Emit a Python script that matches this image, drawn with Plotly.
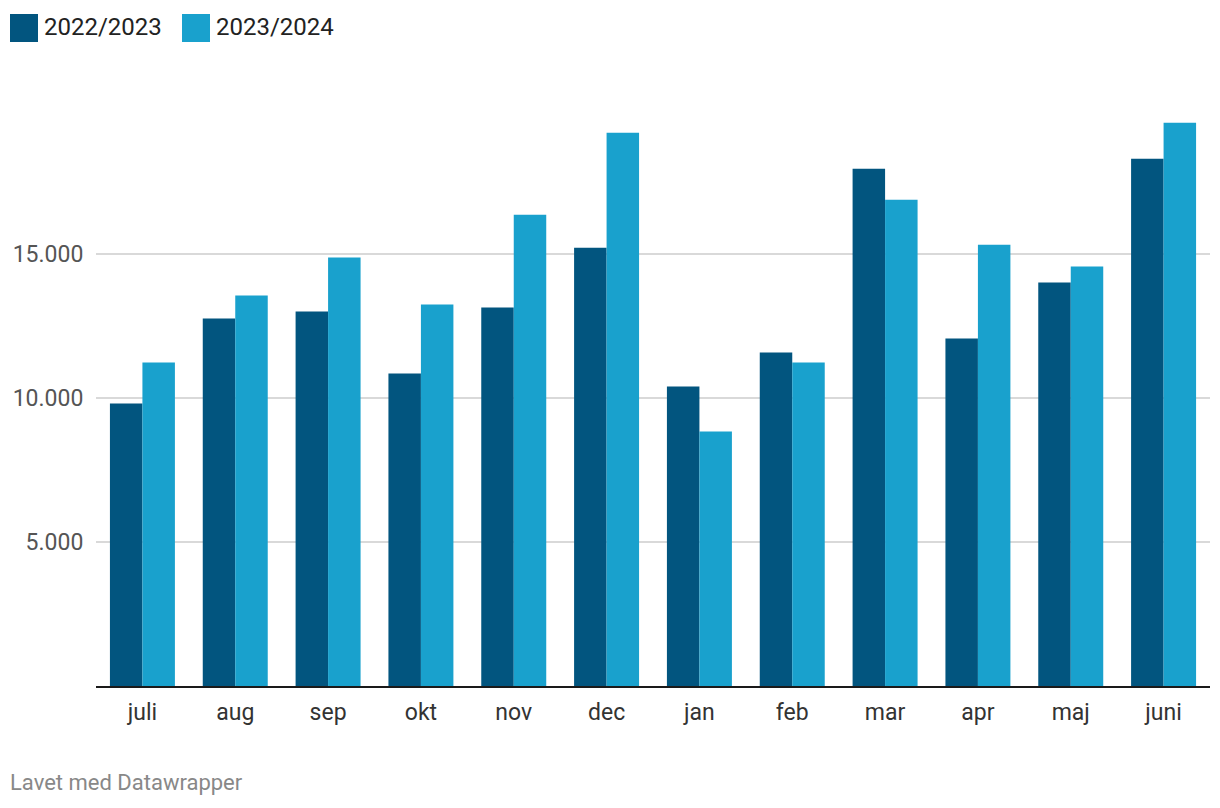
import plotly.graph_objects as go

months = ["juli", "aug", "sep", "okt", "nov", "dec", "jan", "feb", "mar", "apr", "maj", "juni"]
s2022 = [9810, 12760, 13000, 10850, 13140, 15220, 10400, 11580, 17960, 12065, 14010, 18310]
s2023 = [11230, 13560, 14875, 13245, 16365, 19210, 8840, 11230, 16885, 15325, 14565, 19560]
series_names = ["2022/2023", "2023/2024"]
colors = ["#02557f", "#19a1cd"]
ytick_vals = [5000, 10000, 15000]
ytick_text = ["5.000", "10.000", "15.000"]

W, H = 1220, 808
OFF = 8  # page body offset
L, R, T = 96 - OFF, 1220 - (1210 - OFF), 110 - OFF
PH = 576
B = H - T - PH
PW = W - L - R

def px(x):
    return (x - OFF - L) / PW

def py(y):
    return 1 - (y - OFF - T) / PH

fig = go.Figure()
for name, vals, c in zip(series_names, [s2022, s2023], colors):
    fig.add_trace(go.Bar(x=months, y=vals, name=name, marker=dict(color=c, line=dict(width=0)),
                         showlegend=False))

fig.update_layout(
    width=W, height=H,
    margin=dict(l=L, r=R, t=T, b=B),
    paper_bgcolor="white", plot_bgcolor="white",
    barmode="group", bargap=0.3, bargroupgap=0,
    font=dict(family="Roboto", size=23, color="#333333"),
    xaxis=dict(showline=True, linecolor="#1a1a1a", linewidth=2, showgrid=False,
               ticks="outside", ticklen=4, tickcolor="rgba(0,0,0,0)", automargin=False,
               tickfont=dict(size=23, color="#333333"), fixedrange=True),
    yaxis=dict(range=[0, 20000], tickvals=ytick_vals, ticktext=ytick_text,
               showgrid=True, gridcolor="#d9d9d9", gridwidth=2, zeroline=False,
               ticks="outside", ticklen=7, tickcolor="rgba(0,0,0,0)", automargin=False,
               tickfont=dict(size=23, color="#555555"), fixedrange=True),
)

# manual legend (squares + labels)
legend_x = [10, 182]
for lx, name, c in zip(legend_x, series_names, colors):
    fig.add_shape(type="rect", xref="paper", yref="paper",
                  x0=px(lx), x1=px(lx + 28), y0=py(42), y1=py(14),
                  fillcolor=c, line=dict(width=0))
    fig.add_annotation(xref="paper", yref="paper",
                       x=px(lx + 32), y=py(27),
                       text=name, showarrow=False, xanchor="left", yanchor="middle",
                       font=dict(size=24, color="#222222"))

fig.add_annotation(xref="paper", yref="paper",
                   x=px(8), y=py(782),
                   text="Lavet med Datawrapper", showarrow=False,
                   xanchor="left", yanchor="middle",
                   font=dict(size=22, color="#888888"))

fig.write_html("out.html")
